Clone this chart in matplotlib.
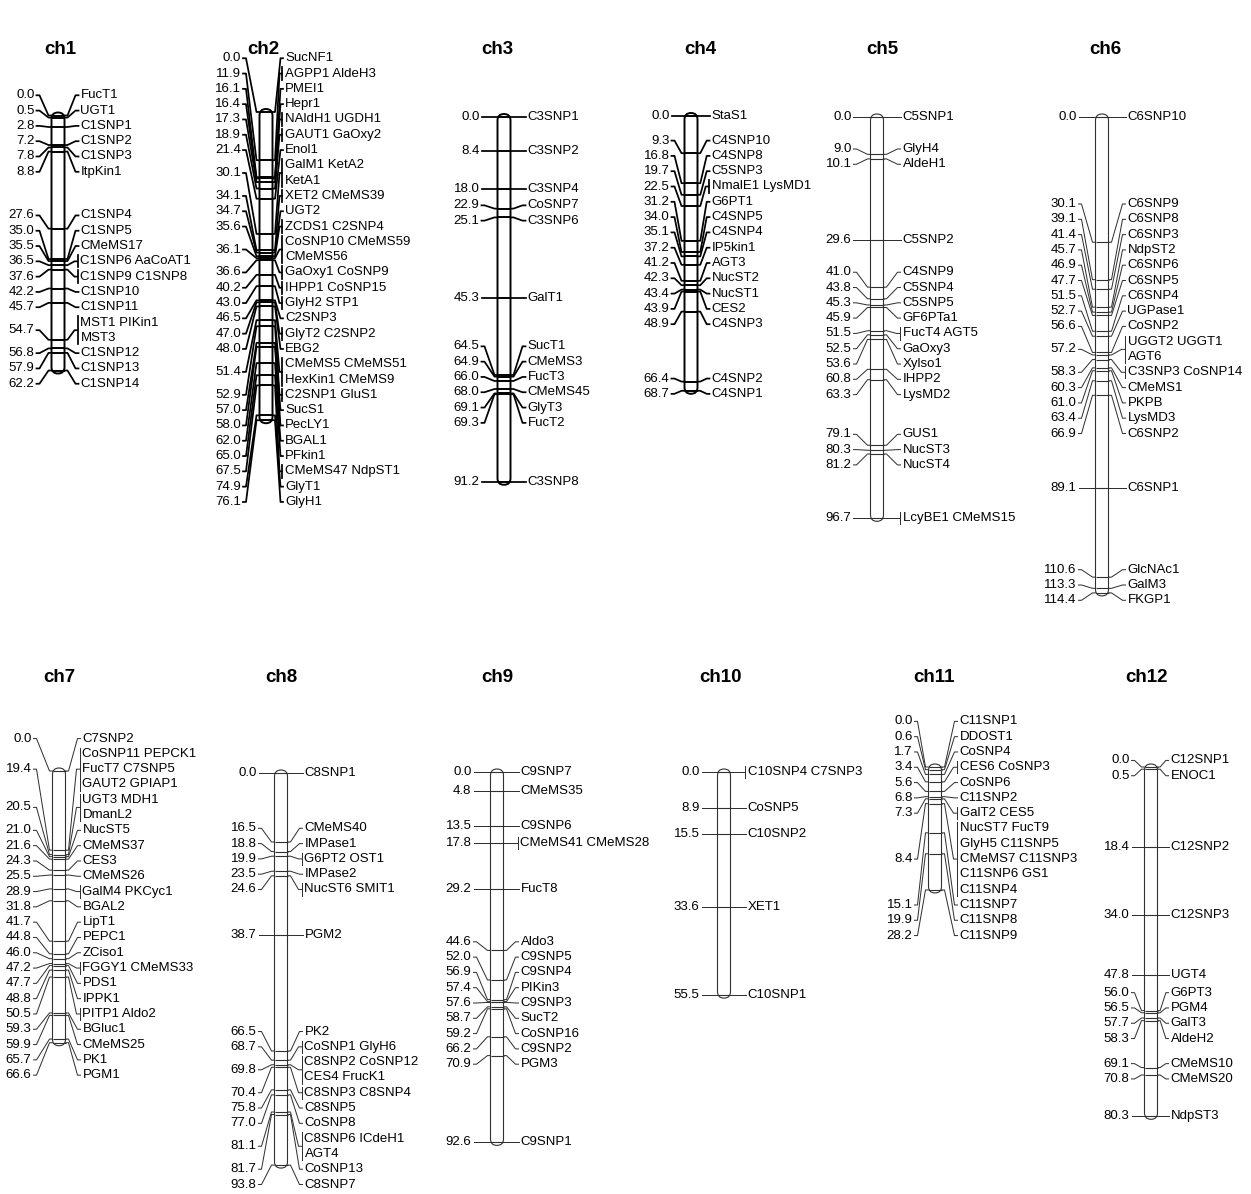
import numpy as np
import matplotlib
matplotlib.use("Agg")
import matplotlib.pyplot as plt
from matplotlib.patches import FancyBboxPatch

plt.rcParams['font.family'] = ['Liberation Sans', 'DejaVu Sans']

# ---- map data: marker positions (cM) and marker names at each position ----
ch1_pos = [0.0, 0.5, 2.8, 7.2, 7.8, 8.8, 27.6, 35.0, 35.5, 36.5, 37.6, 42.2, 45.7, 54.7, 56.8, 57.9, 62.2]
ch1_loci = ["FucT1", "UGT1", "C1SNP1", "C1SNP2", "C1SNP3", "ItpKin1", "C1SNP4", "C1SNP5", "CMeMS17",
            "C1SNP6 AaCoAT1", "C1SNP9 C1SNP8", "C1SNP10", "C1SNP11", "MST1 PIKin1 MST3",
            "C1SNP12", "C1SNP13", "C1SNP14"]

ch2_pos = [0.0, 11.9, 16.1, 16.4, 17.3, 18.9, 21.4, 30.1, 34.1, 34.7, 35.6, 36.1, 36.6, 40.2, 43.0,
           46.5, 47.0, 48.0, 51.4, 52.9, 57.0, 58.0, 62.0, 65.0, 67.5, 74.9, 76.1]
ch2_loci = ["SucNF1", "AGPP1 AldeH3", "PMEI1", "Hepr1", "NAldH1 UGDH1", "GAUT1 GaOxy2", "Enol1",
            "GalM1 KetA2 KetA1", "XET2 CMeMS39", "UGT2", "ZCDS1 C2SNP4", "CoSNP10 CMeMS59 CMeMS56",
            "GaOxy1 CoSNP9", "IHPP1 CoSNP15", "GlyH2 STP1", "C2SNP3", "GlyT2 C2SNP2", "EBG2",
            "CMeMS5 CMeMS51 HexKin1 CMeMS9", "C2SNP1 GluS1", "SucS1", "PecLY1", "BGAL1", "PFkin1",
            "CMeMS47 NdpST1", "GlyT1", "GlyH1"]

ch3_pos = [0.0, 8.4, 18.0, 22.9, 25.1, 45.3, 64.5, 64.9, 66.0, 68.0, 69.1, 69.3, 91.2]
ch3_loci = ["C3SNP1", "C3SNP2", "C3SNP4", "CoSNP7", "C3SNP6", "GalT1", "SucT1", "CMeMS3", "FucT3",
            "CMeMS45", "GlyT3", "FucT2", "C3SNP8"]

ch4_pos = [0.0, 9.3, 16.8, 19.7, 22.5, 31.2, 34.0, 35.1, 37.2, 41.2, 42.3, 43.4, 43.9, 48.9, 66.4, 68.7]
ch4_loci = ["StaS1", "C4SNP10", "C4SNP8", "C5SNP3", "NmalE1 LysMD1", "G6PT1", "C4SNP5", "C4SNP4",
            "IP5kin1", "AGT3", "NucST2", "NucST1", "CES2", "C4SNP3", "C4SNP2", "C4SNP1"]

ch5_pos = [0.0, 9.0, 10.1, 29.6, 41.0, 43.8, 45.3, 45.9, 51.5, 52.5, 53.6, 60.8, 63.3, 79.1, 80.3, 81.2, 96.7]
ch5_loci = ["C5SNP1", "GlyH4", "AldeH1", "C5SNP2", "C4SNP9", "C5SNP4", "C5SNP5", "GF6PTa1",
            "FucT4 AGT5", "GaOxy3", "Xylso1", "IHPP2", "LysMD2", "GUS1", "NucST3", "NucST4",
            "LcyBE1 CMeMS15"]

ch6_pos = [0.0, 30.1, 39.1, 41.4, 45.7, 46.9, 47.7, 51.5, 52.7, 56.6, 57.2, 58.3, 60.3, 61.0, 63.4,
           66.9, 89.1, 110.6, 113.3, 114.4]
ch6_loci = ["C6SNP10", "C6SNP9", "C6SNP8", "C6SNP3", "NdpST2", "C6SNP6", "C6SNP5", "C6SNP4",
            "UGPase1", "CoSNP2", "UGGT2 UGGT1 AGT6", "C3SNP3 CoSNP14", "CMeMS1", "PKPB", "LysMD3",
            "C6SNP2", "C6SNP1", "GlcNAc1", "GalM3", "FKGP1"]

ch7_pos = [0.0, 19.4, 20.5, 21.0, 21.6, 24.3, 25.5, 28.9, 31.8, 41.7, 44.8, 46.0, 47.2, 47.7, 48.8,
           50.5, 59.3, 59.9, 65.7, 66.6]
ch7_loci = ["C7SNP2", "CoSNP11 PEPCK1 FucT7 C7SNP5 GAUT2 GPIAP1", "UGT3 MDH1 DmanL2", "NucST5",
            "CMeMS37", "CES3", "CMeMS26", "GalM4 PKCyc1", "BGAL2", "LipT1", "PEPC1", "ZCiso1",
            "FGGY1 CMeMS33", "PDS1", "IPPK1", "PITP1 Aldo2", "BGluc1", "CMeMS25", "PK1", "PGM1"]

ch8_pos = [0.0, 16.5, 18.8, 19.9, 23.5, 24.6, 38.7, 66.5, 68.7, 69.8, 70.4, 75.8, 77.0, 81.1, 81.7, 93.8]
ch8_loci = ["C8SNP1", "CMeMS40", "IMPase1", "G6PT2 OST1", "IMPase2", "NucST6 SMIT1", "PGM2", "PK2",
            "CoSNP1 GlyH6", "C8SNP2 CoSNP12 CES4 FrucK1", "C8SNP3 C8SNP4", "C8SNP5", "CoSNP8",
            "C8SNP6 ICdeH1 AGT4", "CoSNP13", "C8SNP7"]

ch9_pos = [0.0, 4.8, 13.5, 17.8, 29.2, 44.6, 52.0, 56.9, 57.4, 57.6, 58.7, 59.2, 66.2, 70.9, 92.6]
ch9_loci = ["C9SNP7", "CMeMS35", "C9SNP6", "CMeMS41 CMeMS28", "FucT8", "Aldo3", "C9SNP5", "C9SNP4",
            "PIKin3", "C9SNP3", "SucT2", "CoSNP16", "C9SNP2", "PGM3", "C9SNP1"]

ch10_pos = [0.0, 8.9, 15.5, 33.6, 55.5]
ch10_loci = ["C10SNP4 C7SNP3", "CoSNP5", "C10SNP2", "XET1", "C10SNP1"]

ch11_pos = [0.0, 0.6, 1.7, 3.4, 5.6, 6.8, 7.3, 8.4, 15.1, 19.9, 28.2]
ch11_loci = ["C11SNP1", "DDOST1", "CoSNP4", "CES6 CoSNP3", "CoSNP6", "C11SNP2", "GalT2 CES5",
             "NucST7 FucT9 GlyH5 C11SNP5 CMeMS7 C11SNP3 C11SNP6 GS1 C11SNP4",
             "C11SNP7", "C11SNP8", "C11SNP9"]

ch12_pos = [0.0, 0.5, 18.4, 34.0, 47.8, 56.0, 56.5, 57.7, 58.3, 69.1, 70.8, 80.3]
ch12_loci = ["C12SNP1", "ENOC1", "C12SNP2", "C12SNP3", "UGT4", "G6PT3", "PGM4", "GalT3", "AldeH2",
             "CMeMS10", "CMeMS20", "NdpST3"]

chroms = [("ch1", ch1_pos, ch1_loci), ("ch2", ch2_pos, ch2_loci), ("ch3", ch3_pos, ch3_loci),
          ("ch4", ch4_pos, ch4_loci), ("ch5", ch5_pos, ch5_loci), ("ch6", ch6_pos, ch6_loci),
          ("ch7", ch7_pos, ch7_loci), ("ch8", ch8_pos, ch8_loci), ("ch9", ch9_pos, ch9_loci),
          ("ch10", ch10_pos, ch10_loci), ("ch11", ch11_pos, ch11_loci), ("ch12", ch12_pos, ch12_loci)]

# ---- layout (pixels): bar centre, y of 0 cM, px per cM, label gaps, title position ----
W, H = 1251, 1194
LINE = 15.3      # label pitch in px
FS = 9.5
HW = 6.5         # half bar width
layout = {
    "ch1": dict(cx=58, y0=115.5, s=4.1, gl=17, gr=16, tx=60, ty=50),
    "ch2": dict(cx=266, y0=112, s=4.05, gl=18.5, gr=12.5, tx=263, ty=50, dl=14),
    "ch3": dict(cx=504, y0=117, s=4.0, gl=18, gr=17, tx=497, ty=50),
    "ch4": dict(cx=691, y0=116, s=4.0, gl=15, gr=14, tx=700, ty=50),
    "ch5": dict(cx=877, y0=117, s=4.15, gl=19, gr=19, tx=882, ty=50),
    "ch6": dict(cx=1102, y0=117, s=4.16, gl=19, gr=19, tx=1105, ty=50),
    "ch7": dict(cx=59, y0=771, s=4.08, gl=21, gr=17, tx=59, ty=677),
    "ch8": dict(cx=281, y0=773, s=4.18, gl=18, gr=17, tx=281, ty=677),
    "ch9": dict(cx=497, y0=772, s=4.0, gl=19, gr=17, tx=497, ty=677),
    "ch10": dict(cx=724, y0=772, s=4.02, gl=18, gr=17, tx=720, ty=677),
    "ch11": dict(cx=935, y0=767, s=4.36, gl=16, gr=18, tx=934, ty=677),
    "ch12": dict(cx=1151, y0=767, s=4.35, gl=15, gr=13, tx=1146, ty=677),
}
heavy = {"ch1", "ch2", "ch3", "ch4"}


def spread(centers, heights):
    # MapChart-like label placement: overlapping labels are stacked into
    # clusters, each centred between the ideal positions of its end labels
    clusters = [[i] for i in range(len(centers))]
    while True:
        tops = []
        for c in clusters:
            h = np.array([heights[i] for i in c])
            off = np.cumsum(np.r_[0, h[:-1]]) + h / 2
            tops.append(((centers[c[0]] - off[0]) + (centers[c[-1]] - off[-1])) / 2)
        merged = False
        for k in range(len(clusters) - 1):
            bottom = tops[k] + sum(heights[i] for i in clusters[k])
            if tops[k + 1] < bottom - 1e-6:
                clusters[k] = clusters[k] + clusters[k + 1]
                del clusters[k + 1]
                merged = True
                break
        if not merged:
            break
    out = np.zeros(len(centers))
    for c, t in zip(clusters, tops):
        y = t
        for i in c:
            out[i] = y + heights[i] / 2
            y += heights[i]
    return out


fig = plt.figure(figsize=(W / 100, H / 100), dpi=100)
fig.patch.set_facecolor("white")

for name, pos, loci in chroms:
    p = layout[name]
    pos = np.array(pos)
    s = p["s"]
    L = pos[-1]
    col = "black" if name in heavy else "#303030"
    lw = 1.4 if name in heavy else 0.8

    ax = fig.add_axes([(p["cx"] - HW) / W, 1 - (p["y0"] + L * s) / H, 2 * HW / W, L * s / H])
    ax.set_xlim(-HW, HW)
    ax.set_ylim(L, 0)
    ax.axis("off")

    groups = [n.split() for n in loci]
    lines = [[" ".join(g[i:i + 2]) for i in range(0, len(g), 2)] for g in groups]
    nl = np.array([len(l) for l in lines])
    lab = (spread(pos * s, nl * LINE) + p.get("dl", 0)) / s
    step = LINE / s

    pad = 3 / s
    bar = FancyBboxPatch((-HW, -pad), 2 * HW, L + 2 * pad,
                         boxstyle=f"round,pad=0,rounding_size={HW}", mutation_aspect=1 / s,
                         fc="white", ec=col, lw=lw, clip_on=False, zorder=1)
    ax.add_patch(bar)
    ax.hlines(pos, -HW, HW, color=col, lw=lw, zorder=2, clip_on=False)

    xl = -HW - p["gl"]
    xr = HW + p["gr"]
    for i in range(len(pos)):
        ym, yl = pos[i], lab[i]
        st = min(3, p["gl"] * 0.2)
        ax.plot([xl + 2, xl + 2 + st, -HW - st, -HW], [yl, yl, ym, ym], color=col, lw=lw * 0.9,
                clip_on=False)
        ax.text(xl, yl, f"{ym:.1f}", ha="right", va="center", fontsize=FS, clip_on=False)
        xe = xr - 3 if len(groups[i]) > 1 else xr - 2
        sr = min(3, p["gr"] * 0.2)
        ax.plot([HW, HW + sr, xe - sr, xe], [ym, ym, yl, yl], color=col, lw=lw * 0.9, clip_on=False)
        if len(groups[i]) > 1:
            half = (nl[i] * LINE / 2 - 1.5) / s
            ax.plot([xe, xe], [yl - half, yl + half], color=col, lw=lw * 0.9, clip_on=False)
        for j, t in enumerate(lines[i]):
            ax.text(xr, yl + (j - (nl[i] - 1) / 2) * step, t, ha="left", va="center",
                    fontsize=FS, clip_on=False)

    fig.text(p["tx"] / W, 1 - p["ty"] / H, name, ha="center", va="center",
             fontsize=13.5, fontweight="bold")

fig.savefig("out.png", dpi=100, facecolor="white")
